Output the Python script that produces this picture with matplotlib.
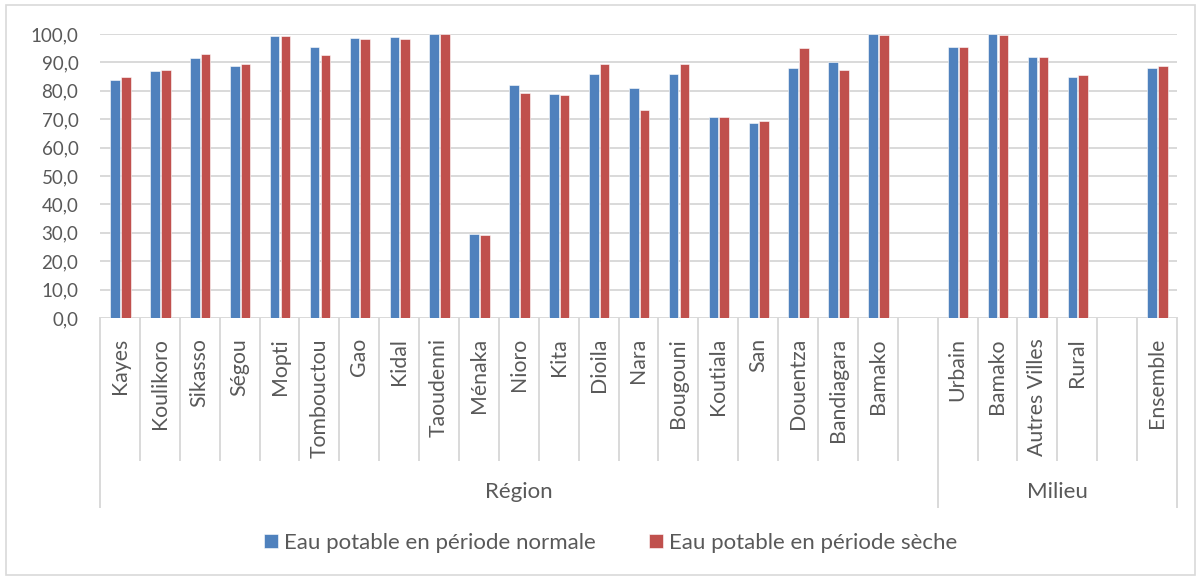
import numpy as np
import matplotlib
matplotlib.use("Agg")
import matplotlib.pyplot as plt
from matplotlib.patches import Rectangle
import matplotlib.transforms as mtransforms

categories = ["Kayes", "Koulikoro", "Sikasso", "Ségou", "Mopti", "Tombouctou", "Gao",
              "Kidal", "Taoudenni", "Ménaka", "Nioro", "Kita", "Dioila", "Nara",
              "Bougouni", "Koutiala", "San", "Douentza", "Bandiagara", "Bamako", "",
              "Urbain", "Bamako", "Autres Villes", "Rural", "", "Ensemble"]
normal = [83.9, 86.8, 91.7, 88.7, 99.2, 95.5, 98.6, 98.8, 100.0, 29.7, 82.1, 78.8,
          85.8, 80.9, 86.0, 70.7, 68.6, 88.1, 90.1, 100.0, np.nan,
          95.3, 100.0, 91.9, 85.0, np.nan, 88.2]
seche = [84.7, 87.2, 93.1, 89.4, 99.4, 92.6, 98.4, 98.4, 100.0, 29.1, 79.2, 78.6,
         89.4, 73.2, 89.4, 70.9, 69.5, 95.2, 87.4, 99.8, np.nan,
         95.3, 99.8, 91.9, 85.4, np.nan, 88.6]
group_names = ["Région", "Milieu"]
group_sizes = [21, 6]
series_names = ["Eau potable en période normale", "Eau potable en période sèche"]
yticks = np.arange(0, 101, 10)

plt.rcParams['font.family'] = ['Lato', 'DejaVu Sans']
txt = "#595959"
grid_c = "#D9D9D9"
blue = "#4F81BD"
red = "#C0504D"

W, H = 1201, 576
fig = plt.figure(figsize=(W / 100, H / 100), dpi=100)
fig.patches.append(Rectangle((6 / W, 1 / H), (1195 - 6) / W, 570 / H,
                             transform=fig.transFigure, fill=False,
                             edgecolor=grid_c, linewidth=1.2))

left, right, y0, y100 = 100, 1177, 318, 34
ax = fig.add_axes([left / W, (H - y0) / H, (right - left) / W, (y0 - y100) / H])

x = np.arange(len(categories))
bw = 0.24
ax.bar(x - 0.12, normal, bw, color=blue, edgecolor="white", linewidth=0.4, zorder=3,
       label=series_names[0])
ax.bar(x + 0.15, seche, bw, color=red, edgecolor="white", linewidth=0.4, zorder=3,
       label=series_names[1])

ax.set_xlim(-0.5, len(categories) - 0.5)
ax.set_ylim(0, 100)
ax.set_yticks(yticks)
ax.set_yticklabels([f"{v:.1f}".replace(".", ",") for v in yticks])
ax.yaxis.grid(True, color=grid_c, linewidth=1.4, zorder=0)
ax.set_axisbelow(True)
for s in ax.spines.values():
    s.set_visible(False)
ax.tick_params(axis="y", length=0, labelsize=13.5, labelcolor=txt, pad=15.5)
ax.set_xticks([])

trans = mtransforms.blended_transform_factory(ax.transData, ax.transAxes)
ah = y0 - y100
short = -(460 - y0) / ah
long_ = -(507 - y0) / ah
ends = np.cumsum(group_sizes)
long_bounds = set([0] + list(ends))
for b in range(len(categories) + 1):
    yb = long_ if b in long_bounds else short
    ax.plot([b - 0.5, b - 0.5], [0, yb], transform=trans, color=grid_c,
            linewidth=1.4, clip_on=False, zorder=1)

for i, c in enumerate(categories):
    if c:
        ax.text(i, -20 / ah, c, transform=trans, rotation=90, ha="center", va="top",
                fontsize=15.3, color=txt)

start = 0
for g, n in zip(group_names, group_sizes):
    ax.text(start + n / 2 - 0.5, -(492 - y0) / ah, g, transform=trans, ha="center",
            va="center", fontsize=16, color=txt)
    start += n

fig.legend(loc="center", bbox_to_anchor=(611 / W, (H - 543) / H), ncol=2, frameon=False,
           fontsize=16, labelcolor=txt, handlelength=0.6, handleheight=0.6,
           handletextpad=0.3, columnspacing=2.4)

fig.savefig("out.png", dpi=100)
